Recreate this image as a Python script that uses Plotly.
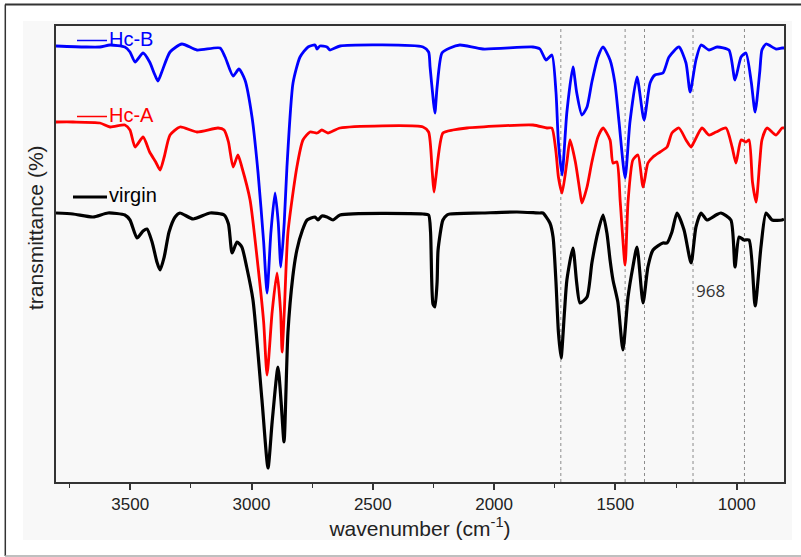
import plotly.graph_objects as go

# ---- data (wavenumber in cm-1, transmittance in arbitrary units) ----
virgin_wn = [3806, 3736, 3653, 3592, 3522, 3501, 3472, 3447, 3431, 3410, 3390, 3377, 3360, 3340, 3315,
             3295, 3241, 3171, 3113, 3095, 3080, 3060, 3040, 3020, 2994, 2957, 2932, 2915, 2891, 2878,
             2866, 2850, 2830, 2813, 2790, 2771, 2738, 2726, 2710, 2689, 2664, 2635, 2293, 2270, 2262,
             2252, 2244, 2235, 2231, 2211, 2194, 2182, 2050, 1906, 1811, 1799, 1770, 1757, 1745, 1735,
             1724, 1710, 1700, 1675, 1660, 1646, 1617, 1597, 1572, 1551, 1535, 1522, 1510, 1490, 1469,
             1448, 1428, 1411, 1386, 1366, 1345, 1304, 1287, 1267, 1246, 1217, 1188, 1168, 1147, 1123,
             1085, 1065, 1024, 1007, 990, 970, 949, 924, 900, 879, 854, 813, 805]
virgin_t = [269, 268, 265, 269, 267, 262, 244, 251, 253, 240, 220, 212, 225, 250, 265,
            269, 263, 269, 267, 258, 229, 240, 235, 215, 182, 82, 14, 60, 115, 80,
            40, 149, 205, 232, 252, 262, 265, 262, 266, 265, 262, 267, 268, 267, 250,
            178, 175, 200, 232, 262, 267, 268, 269, 270, 269, 269, 259, 245, 200, 150,
            124, 170, 202, 234, 200, 179, 185, 219, 250, 267, 249, 222, 202, 180, 132,
            185, 215, 235, 179, 215, 232, 239, 239, 250, 269, 252, 219, 255, 269, 262,
            267, 269, 262, 215, 245, 242, 242, 176, 235, 269, 262, 262, 263]

hca_wn = [3806, 3736, 3625, 3583, 3522, 3501, 3480, 3447, 3420, 3395, 3377, 3360, 3336, 3295, 3225,
          3138, 3113, 3095, 3076, 3056, 3040, 3006, 2973, 2950, 2936, 2915, 2895, 2880, 2874, 2865,
          2850, 2813, 2788, 2759, 2730, 2710, 2685, 2635, 2293, 2270, 2255, 2248, 2240, 2211, 2170,
          2112, 1840, 1782, 1762, 1745, 1735, 1720, 1700, 1687, 1665, 1646, 1638, 1617, 1597, 1572,
          1551, 1522, 1510, 1494, 1480, 1460, 1448, 1428, 1407, 1386, 1366, 1345, 1316, 1287, 1267,
          1238, 1209, 1188, 1176, 1143, 1114, 1085, 1044, 1019, 1003, 982, 962, 949, 935, 920,
          905, 896, 875, 838, 813, 805]
hca_t = [360, 360, 359, 355, 357, 352, 335, 345, 330, 320, 312, 325, 347, 355, 350,
         354, 352, 340, 315, 327, 315, 282, 215, 160, 107, 170, 209, 170, 130, 170,
         249, 315, 342, 350, 349, 352, 349, 354, 355, 350, 310, 290, 305, 349, 352,
         354, 357, 354, 354, 330, 305, 289, 320, 342, 320, 290, 279, 295, 320, 345,
         354, 342, 319, 320, 280, 217, 280, 322, 327, 295, 319, 325, 330, 335, 349,
         354, 342, 335, 340, 354, 347, 350, 354, 335, 319, 342, 340, 342, 300, 280,
         320, 342, 354, 347, 354, 354]

hcb_wn = [3806, 3686, 3625, 3583, 3522, 3501, 3480, 3447, 3420, 3400, 3386, 3370, 3336, 3287, 3225,
          3130, 3109, 3076, 3052, 3027, 2998, 2973, 2950, 2936, 2920, 2903, 2890, 2879, 2865, 2854,
          2829, 2800, 2767, 2738, 2730, 2718, 2689, 2677, 2635, 2293, 2270, 2264, 2250, 2244, 2235,
          2215, 2182, 2141, 2046, 1840, 1811, 1786, 1762, 1745, 1735, 1720, 1700, 1675, 1660, 1638,
          1617, 1597, 1572, 1551, 1522, 1502, 1485, 1460, 1440, 1411, 1382, 1357, 1337, 1304, 1279,
          1238, 1209, 1192, 1168, 1147, 1114, 1081, 1032, 1007, 982, 962, 940, 924, 905, 896,
          879, 838, 813, 805]
hcb_t = [436, 435, 435, 437, 435, 430, 420, 429, 420, 408, 401, 410, 430, 438, 432,
         434, 425, 406, 413, 402, 365, 309, 240, 189, 250, 289, 260, 215, 260, 315,
         399, 425, 435, 437, 433, 436, 435, 432, 436, 435, 430, 415, 380, 369, 395,
         429, 434, 437, 433, 435, 433, 422, 427, 390, 340, 307, 370, 415, 390, 367,
         375, 400, 425, 435, 422, 399, 360, 304, 360, 405, 362, 399, 407, 409, 425,
         435, 419, 390, 422, 437, 432, 435, 432, 402, 425, 429, 400, 370, 410, 432,
         438, 433, 434, 434]

marker_lines = [1725, 1460, 1380, 1180, 968]
x_ticks = [3500, 3000, 2500, 2000, 1500, 1000]

FONT = "Liberation Sans, Arial, sans-serif"


def px2x(px):
    return (px - 56) / 728.0


def py2y(py):
    return (482 - py) / 456.0


fig = go.Figure()

# faint grey backdrop (added first so it lies beneath everything)
fig.add_shape(type="rect", xref="paper", yref="paper", x0=px2x(23), x1=px2x(792), y0=py2y(540), y1=py2y(21),
              fillcolor="#f8f8f8", line=dict(width=0), layer="below")

for v in marker_lines:
    fig.add_vline(x=v, line=dict(color="#8c8c8c", width=1, dash="dot"), layer="below")

for wn, t, col, w, name in [(virgin_wn, virgin_t, "#000000", 3.2, "virgin"),
                            (hca_wn, hca_t, "#ff0000", 2.8, "Hc-A"),
                            (hcb_wn, hcb_t, "#0000ff", 2.8, "Hc-B")]:
    fig.add_trace(go.Scatter(x=wn, y=t, mode="lines", name=name,
                             line=dict(color=col, width=w, shape="spline", smoothing=0.6)))

shapes = [
    # outer border
    dict(type="line", xref="paper", yref="paper", x0=px2x(5), x1=px2x(805), y0=py2y(4.5), y1=py2y(4.5),
         line=dict(color="#333333", width=2)),
    dict(type="line", xref="paper", yref="paper", x0=px2x(5.3), x1=px2x(5.3), y0=py2y(4.5), y1=py2y(556),
         line=dict(color="#333333", width=1.5)),
    dict(type="line", xref="paper", yref="paper", x0=px2x(5), x1=px2x(805), y0=py2y(556), y1=py2y(556),
         line=dict(color="#aaaaaa", width=1.5)),
    # legend line segments
    dict(type="line", xref="paper", yref="paper", x0=px2x(77), x1=px2x(107), y0=py2y(40.5), y1=py2y(40.5),
         line=dict(color="#0000ff", width=1.5)),
    dict(type="line", xref="paper", yref="paper", x0=px2x(77), x1=px2x(107), y0=py2y(116.5), y1=py2y(116.5),
         line=dict(color="#ff0000", width=1.5)),
    dict(type="line", xref="paper", yref="paper", x0=px2x(73), x1=px2x(107), y0=py2y(197), y1=py2y(197),
         line=dict(color="#000000", width=3)),
]
for s in shapes:
    fig.add_shape(**s)

ann = [
    dict(text="Hc-B", x=px2x(107), y=py2y(39), color="#0000ff"),
    dict(text="Hc-A", x=px2x(107), y=py2y(115), color="#ff0000"),
    dict(text="virgin", x=px2x(107), y=py2y(195), color="#000000"),
]
for a in ann:
    fig.add_annotation(text=a["text"], x=a["x"], y=a["y"], xref="paper", yref="paper",
                       xanchor="left", yanchor="middle", showarrow=False,
                       font=dict(family=FONT, size=20, color=a["color"]))

fig.add_annotation(text="968", x=px2x(710), y=py2y(290), xref="paper", yref="paper",
                   xanchor="center", yanchor="middle", showarrow=False,
                   font=dict(family="Open Sans, sans-serif", size=17, color="#333333"))

# y-axis title (placed as text so it sits where the reference has it)
fig.add_annotation(text="transmittance (%)", x=px2x(35), y=py2y(228), xref="paper", yref="paper",
                   xanchor="center", yanchor="middle", showarrow=False, textangle=-90,
                   font=dict(family=FONT, size=21, color="#222222"))

fig.update_layout(
    width=801, height=557,
    margin=dict(l=56, r=17, t=26, b=75),
    paper_bgcolor="#ffffff",
    plot_bgcolor="rgba(0,0,0,0)",
    showlegend=False,
    font=dict(family=FONT, color="#222222"),
)
fig.update_xaxes(
    range=[3806, 805], autorange=False,
    tickmode="array", tickvals=x_ticks, ticktext=[str(v) for v in x_ticks],
    ticks="outside", ticklen=6, tickwidth=1.5, tickcolor="#333333",
    minor=dict(dtick=250, tick0=0, ticks="outside", ticklen=4, tickwidth=1.2, tickcolor="#333333"),
    showline=True, linecolor="#333333", linewidth=1.5, mirror=True,
    showgrid=False, zeroline=False,
    tickfont=dict(family=FONT, size=17, color="#222222"),
    title=dict(text="wavenumber (cm<sup>-1</sup>)", font=dict(family=FONT, size=21, color="#222222"), standoff=2),
)
fig.update_yaxes(
    range=[0, 456], autorange=False,
    showticklabels=False, ticks="",
    showline=True, linecolor="#333333", linewidth=1.5, mirror=True,
    showgrid=False, zeroline=False,
)

fig.write_html("out.html")
